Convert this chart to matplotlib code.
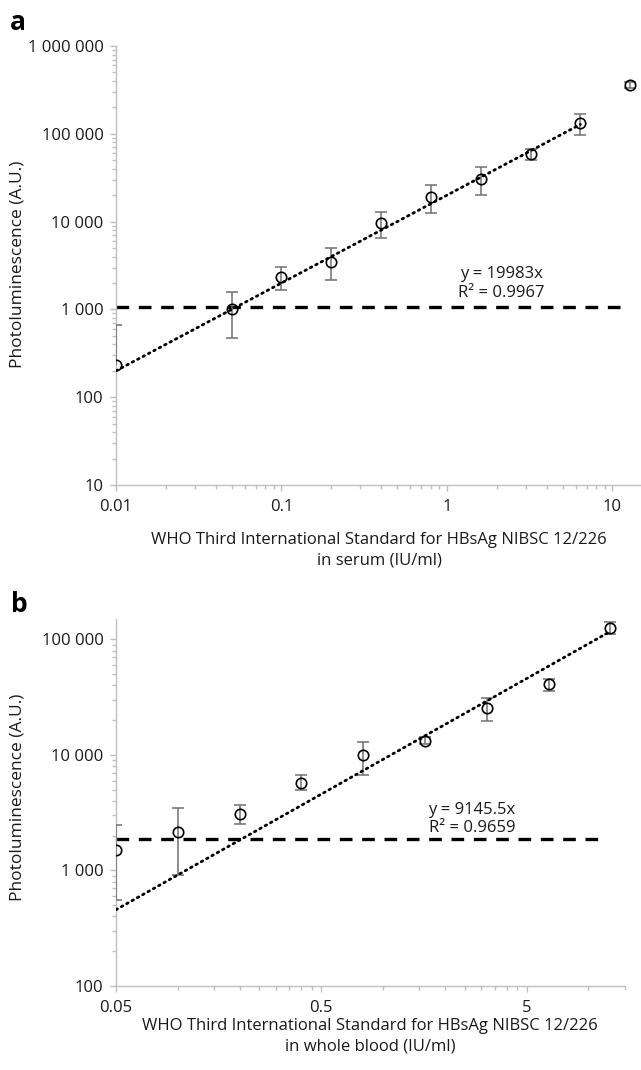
import matplotlib
matplotlib.use("Agg")
import matplotlib.pyplot as plt
import numpy as np
from matplotlib.ticker import FixedLocator, FuncFormatter, LogLocator, NullFormatter

# panel a: serum
serum_conc = [0.01, 0.05, 0.1, 0.2, 0.4, 0.8, 1.6, 3.2, 6.4, 12.8]
serum_signal = [233, 1010, 2350, 3490, 9570, 19200, 30500, 58900, 131900, 359600]
serum_err_lo = [0, 540, 690, 1300, 3000, 6800, 10200, 8400, 35000, 30000]
serum_err_hi = [430, 570, 710, 1480, 3200, 6900, 11700, 7600, 34900, 30000]
serum_slope = 19983
serum_fit_range = [0.01, 6.4]
serum_cutoff = 1075
serum_cutoff_range = [0.01, 11.4]
serum_fit_text = "y = 19983x\nR² = 0.9967"

# panel b: whole blood
blood_conc = [0.05, 0.1, 0.2, 0.4, 0.8, 1.6, 3.2, 6.4, 12.8]
blood_signal = [1500, 2160, 3080, 5740, 9950, 13240, 25500, 40900, 126100]
blood_err_lo = [950, 1250, 580, 780, 3270, 900, 5900, 5100, 15200]
blood_err_hi = [950, 1280, 600, 940, 3030, 920, 5300, 4900, 14200]
blood_slope = 9145.5
blood_fit_range = [0.05, 12.8]
blood_cutoff = 1857
blood_cutoff_range = [0.05, 11.6]
blood_fit_text = "y = 9145.5x\nR² = 0.9659"

xlabel_a = "WHO Third International Standard for HBsAg NIBSC 12/226\nin serum (IU/ml)"
xlabel_b = "WHO Third International Standard for HBsAg NIBSC 12/226\nin whole blood (IU/ml)"
ylabel = "Photoluminescence (A.U.)"

W, H = 641, 1070
FONT = "Open Sans"
TEXT = "#1a1a1a"
AXIS = "#bfbfbf"
ERR = "#707070"

plt.rcParams["font.family"] = [FONT, "DejaVu Sans"]


def px(x, y):
    return x / W, 1 - y / H


def space_thousands(v, _):
    return f"{v:,.0f}".replace(",", " ")


def plain(v, _):
    return f"{v:g}"


def style_axes(ax):
    for s in ("top", "right"):
        ax.spines[s].set_visible(False)
    for s in ("left", "bottom"):
        ax.spines[s].set_color(AXIS)
        ax.spines[s].set_linewidth(1.0)
    ax.tick_params(which="major", direction="out", length=4, width=1, color=AXIS,
                   labelsize=12, labelcolor=TEXT)
    ax.tick_params(which="minor", direction="out", length=3, width=1, color=AXIS)
    ax.tick_params(axis="y", pad=5)
    ax.tick_params(axis="x", pad=6)
    ax.yaxis.set_major_formatter(FuncFormatter(space_thousands))
    ax.yaxis.set_minor_locator(LogLocator(base=10, subs=np.arange(2, 10)))
    ax.yaxis.set_minor_formatter(NullFormatter())


def draw_series(ax, x, y, lo, hi, slope, fit_range, cutoff, cutoff_range):
    x, y, lo, hi = (np.asarray(a, dtype=float) for a in (x, y, lo, hi))
    full = lo > 0
    ax.errorbar(x[full], y[full], yerr=[lo[full], hi[full]], fmt="none",
                ecolor=ERR, elinewidth=1.1, capsize=4, capthick=1.1, zorder=3)
    part = ~full
    if part.any():
        # lower error would fall below zero, so only the upper half is drawn
        ax.errorbar(x[part], y[part], yerr=[lo[part], hi[part]], fmt="none",
                    ecolor=ERR, elinewidth=1.1, capsize=0, zorder=3)
        ax.plot(x[part], (y + hi)[part], ls="none", marker="_", ms=8, mew=1.1,
                color=ERR, zorder=3)
    fx = np.geomspace(fit_range[0], fit_range[1], 100)
    ax.plot(fx, slope * fx, color="black", lw=2.0, ls=(0, (0.6, 1.6)),
            dash_capstyle="round", zorder=4)
    ax.plot(cutoff_range, [cutoff, cutoff], color="black", lw=2.4,
            ls=(0, (3.8, 2.9)), zorder=2)
    ax.plot(x, y, ls="none", marker="o", ms=7.5, mfc="none", mec="black",
            mew=1.2, zorder=5)


fig = plt.figure(figsize=(W / 100, H / 100), dpi=100)

# ---- panel a ----
l, b = px(116, 485)
r, t = px(641.6, 46)
ax1 = fig.add_axes([l, b, r - l, t - b])
ax1.set_xscale("log")
ax1.set_yscale("log")
ax1.set_xlim(0.01, 15)
ax1.set_ylim(10, 1e6)
style_axes(ax1)
ax1.xaxis.set_major_locator(FixedLocator([0.01, 0.1, 1, 10]))
ax1.xaxis.set_major_formatter(FuncFormatter(plain))
ax1.xaxis.set_minor_locator(LogLocator(base=10, subs=np.arange(2, 10)))
ax1.xaxis.set_minor_formatter(NullFormatter())
draw_series(ax1, serum_conc, serum_signal, serum_err_lo, serum_err_hi,
            serum_slope, serum_fit_range, serum_cutoff, serum_cutoff_range)

# ---- panel b ----
l, b = px(116, 986)
r, t = px(624.5, 619.3)
ax2 = fig.add_axes([l, b, r - l, t - b])
ax2.set_xscale("log")
ax2.set_yscale("log")
ax2.set_xlim(0.05, 15)
ax2.set_ylim(100, 1.49e5)
style_axes(ax2)
ax2.xaxis.set_major_locator(FixedLocator([0.05, 0.5, 5]))
ax2.xaxis.set_major_formatter(FuncFormatter(plain))
minor_b = [k * 0.05 for k in range(2, 10)] + [k * 0.5 for k in range(2, 10)] + [10, 15]
ax2.xaxis.set_minor_locator(FixedLocator(minor_b))
ax2.xaxis.set_minor_formatter(NullFormatter())
draw_series(ax2, blood_conc, blood_signal, blood_err_lo, blood_err_hi,
            blood_slope, blood_fit_range, blood_cutoff, blood_cutoff_range)

# ---- text ----
kw = dict(fontsize=12, color=TEXT, ha="center", va="center")
fig.text(*px(501, 283), serum_fit_text, linespacing=1.25, **kw)
fig.text(*px(472, 819), blood_fit_text, linespacing=1.25, **kw)
fig.text(*px(379, 550), xlabel_a, linespacing=1.35, **kw)
fig.text(*px(370, 1036), xlabel_b, linespacing=1.35, **kw)
kw_y = dict(kw, fontsize=12.5)
fig.text(*px(18, 264), ylabel, rotation=90, **kw_y)
fig.text(*px(18, 797), ylabel, rotation=90, **kw_y)
fig.text(*px(18, 22), "a", fontsize=19, fontweight="bold", color="black",
         ha="center", va="center")
fig.text(*px(19, 605), "b", fontsize=19, fontweight="bold", color="black",
         ha="center", va="center")

fig.savefig("out.png", dpi=100)
